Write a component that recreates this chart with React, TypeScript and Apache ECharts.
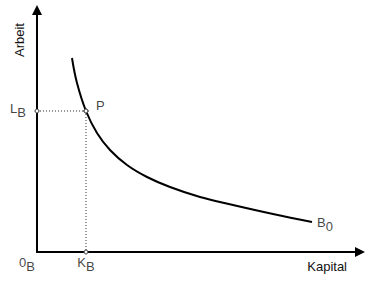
import React, { useEffect, useRef } from "react";
import * as echarts from "echarts";

// Isoquant B0 (Kapital on x, Arbeit on y)
const kapital = [35, 40, 49, 60, 73, 90, 110, 133, 163, 196, 236, 275];
const arbeit = [194, 169, 141, 119, 102, 87, 75, 65, 55, 47, 38, 30];
// Point P on the isoquant
const pointP = [49, 141];
// Axis extents
const xMax = 323;
const yMax = 242;

const FONT = "'Liberation Sans', Arial, sans-serif";
const TEXT = "#111";
const FS = 13;

const rich = {
  m: { fontSize: FS, lineHeight: FS, padding: [0, 0, 4, 0], color: TEXT, fontFamily: FONT },
  s: { fontSize: FS, lineHeight: FS, padding: [4, 0, 0, 0], color: TEXT, fontFamily: FONT },
};

export default function App() {
  const ref = useRef<HTMLDivElement>(null);
  useEffect(() => {
    if (!ref.current) return;
    const chart = echarts.init(ref.current, undefined, { renderer: "svg" });
    const curve = kapital.map((x, i) => [x, arbeit[i]]);
    const last = curve[curve.length - 1];
    const dotted = {
      type: "line",
      silent: true,
      symbol: "circle",
      symbolSize: 4,
      showSymbol: true,
      itemStyle: { color: "#fff", borderColor: "#333", borderWidth: 1 },
      lineStyle: { color: "#333", width: 1, type: [1, 2] },
    };
    chart.setOption({
      animation: false,
      grid: { left: 37, right: 10, top: 10, bottom: 33 },
      xAxis: {
        type: "value",
        min: 0,
        max: xMax,
        name: "Kapital",
        nameLocation: "end",
        nameGap: 0,
        nameTextStyle: {
          align: "right",
          verticalAlign: "top",
          padding: [8, 13, 0, 0],
          fontSize: FS,
          fontFamily: FONT,
          color: TEXT,
        },
        axisLine: {
          show: true,
          onZero: false,
          symbol: ["none", "triangle"],
          symbolSize: [10, 10],
          lineStyle: { color: "#000", width: 2 },
        },
        axisTick: { show: false },
        axisLabel: { show: false },
        splitLine: { show: false },
      },
      yAxis: {
        type: "value",
        min: 0,
        max: yMax,
        axisLine: {
          show: true,
          onZero: false,
          symbol: ["none", "triangle"],
          symbolSize: [10, 10],
          lineStyle: { color: "#000", width: 2 },
        },
        axisTick: { show: false },
        axisLabel: { show: false },
        splitLine: { show: false },
      },
      graphic: [
        {
          type: "text",
          x: 19,
          y: 40,
          rotation: Math.PI / 2,
          style: {
            text: "Arbeit",
            align: "center",
            verticalAlign: "middle",
            fontSize: FS,
            fontFamily: FONT,
            fill: TEXT,
          },
        },
      ],
      series: [
        {
          type: "line",
          name: "B0",
          data: curve,
          smooth: 0.4,
          showSymbol: false,
          symbol: "none",
          lineStyle: { color: "#000", width: 2 },
        },
        { ...dotted, data: [[0, pointP[1]], pointP] },
        { ...dotted, data: [pointP, [pointP[0], 0]] },
        {
          type: "scatter",
          silent: true,
          symbolSize: 0,
          label: { show: true, rich },
          data: [
            { value: [0, pointP[1]], label: { formatter: "{m|L}{s|B}", position: "left", distance: 11, offset: [0, -1] } },
            { value: pointP, label: { formatter: "{m|P}", position: "right", distance: 10, offset: [0, -4] } },
            { value: [pointP[0], 0], label: { formatter: "{m|K}{s|B}", position: "bottom", distance: 6 } },
            { value: [0, 0], label: { formatter: "{m|0}{s|B}", position: "bottom", distance: 6, offset: [-10, 0] } },
            { value: last, label: { formatter: "{m|B}{s|0}", position: "right", distance: 5, offset: [0, 2] } },
          ],
        },
      ],
    });
    return () => chart.dispose();
  }, []);
  return (
    <div
      ref={ref}
      style={{ position: "fixed", left: 0, top: 0, width: 370, height: 285, background: "#fff" }}
    />
  );
}
